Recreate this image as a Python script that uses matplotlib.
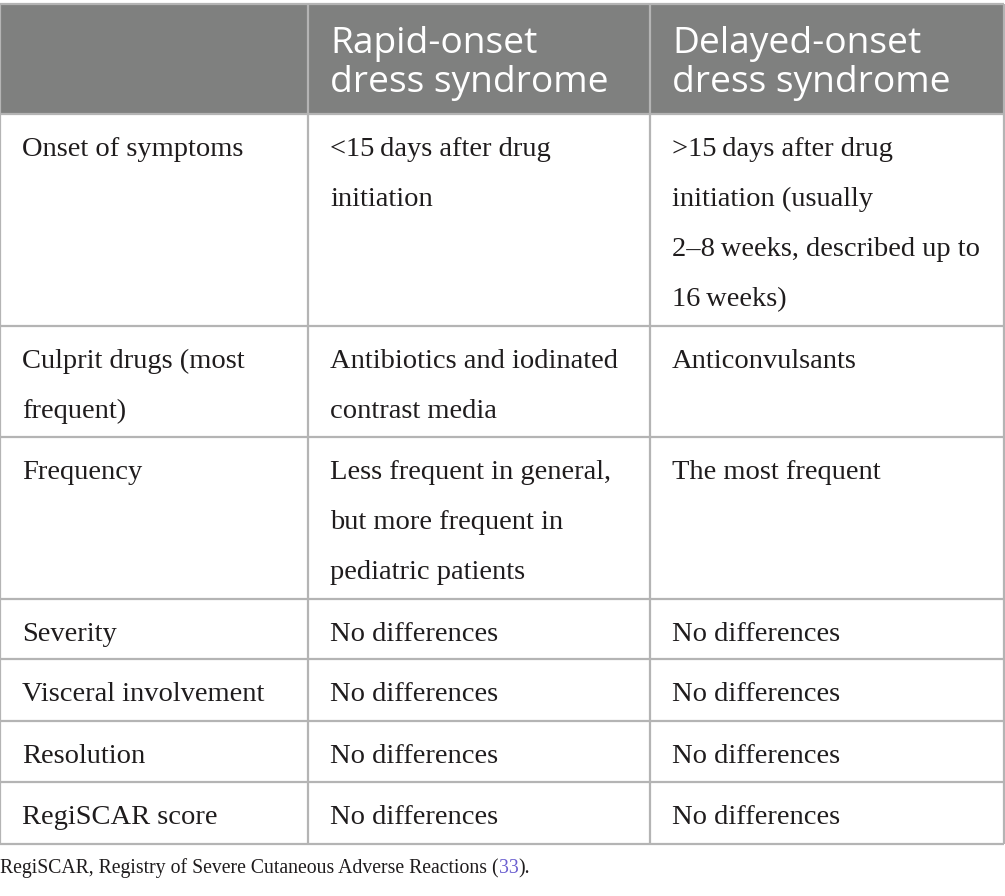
import matplotlib
matplotlib.use('Agg')
import matplotlib.pyplot as plt
from matplotlib.patches import Rectangle

# ── table content ─────────────────────────────────────────────────────────
headers = ["", "Rapid-onset\ndress syndrome", "Delayed-onset\ndress syndrome"]
features = ["Onset of symptoms", "Culprit drugs (most\nfrequent)", "Frequency",
            "Severity", "Visceral involvement", "Resolution", "RegiSCAR score"]
rapid = ["<15\u2009days after drug\ninitiation",
         "Antibiotics and iodinated\ncontrast media",
         "Less frequent in general,\nbut more frequent in\npediatric patients",
         "No differences", "No differences", "No differences", "No differences"]
delayed = [">15\u2009days after drug\ninitiation (usually\n2\u20138\u2009weeks, described up to\n16\u2009weeks)",
           "Anticonvulsants",
           "The most frequent",
           "No differences", "No differences", "No differences", "No differences"]
footnote = "RegiSCAR, Registry of Severe Cutaneous Adverse Reactions ("
ref_num = "33"

# ── layout (pixels) ───────────────────────────────────────────────────────
col_x = [0, 308, 650, 1004]
row_y = [4, 114, 326, 437, 599, 659, 721, 782, 844]
pad_x = 22
first_base = 42
line_gap = 50

header_bg = "#7f807f"
grid_col = "#b4b4b4"
text_col = "#1f1c1d"
serif = ["Liberation Serif", "DejaVu Serif"]
sans = ["Open Sans", "DejaVu Sans"]

fig = plt.figure(figsize=(10.05, 8.96), dpi=100)
ax = fig.add_axes([0, 0, 1, 1])
ax.set_xlim(0, 1005)
ax.set_ylim(896, 0)
ax.axis("off")

# header band
ax.add_patch(Rectangle((col_x[0], row_y[0]), col_x[-1] - col_x[0], row_y[1] - row_y[0],
                       facecolor=header_bg, edgecolor="none"))
for j, h in enumerate(headers):
    for k, line in enumerate(h.split("\n")):
        ax.text(col_x[j] + pad_x, row_y[0] + 49 + k * 39, line, fontsize=26.7,
                family=sans, color="white", va="baseline", ha="left")

# body
columns = [features, rapid, delayed]
for i in range(len(features)):
    top = row_y[i + 1]
    for j, col in enumerate(columns):
        for k, line in enumerate(col[i].split("\n")):
            ax.text(col_x[j] + pad_x, top + first_base + k * line_gap, line,
                    fontsize=20.5, family=serif, color=text_col, va="baseline", ha="left")

# grid lines
for y in row_y:
    ax.plot([col_x[0], col_x[-1]], [y, y], color=grid_col, lw=1.6, solid_capstyle="butt")
for x in col_x:
    ax.plot([x, x], [row_y[0], row_y[-1]], color=grid_col, lw=1.6, solid_capstyle="butt")

# footnote with coloured reference number
t1 = ax.text(0, 873, footnote, fontsize=14.2, family=serif, color=text_col,
             va="baseline", ha="left")
t2 = ax.annotate(ref_num, xy=(1, 0), xycoords=t1, fontsize=14.2, family=serif,
                 color="#6b5fd0", va="bottom", ha="left")
ax.annotate(").", xy=(1, 0), xycoords=t2, fontsize=14.2, family=serif,
            color=text_col, va="bottom", ha="left")

plt.savefig("out.png", dpi=100)
plt.close()
